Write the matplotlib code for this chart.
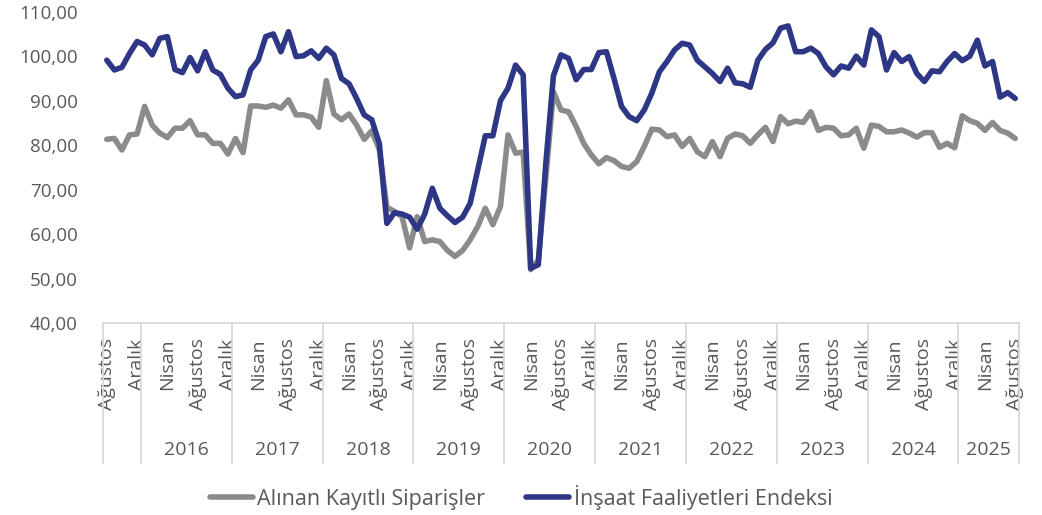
import numpy as np
import matplotlib
matplotlib.use("Agg")
import matplotlib.pyplot as plt
import matplotlib.transforms as mtransforms

plt.rcParams['font.family'] = ['Open Sans', 'DejaVu Sans']

# Aylik veri: Agustos 2015 - Agustos 2025
siparisler = [81.3, 81.5, 78.9, 82.3, 82.5, 88.7, 84.5, 82.7, 81.7, 83.8,
              83.8, 85.5, 82.3, 82.3, 80.4, 80.4, 78.0, 81.5, 78.3, 88.8,
              88.8, 88.5, 89.0, 88.3, 90.2, 86.8, 86.8, 86.3, 84.0, 94.5,
              87.0, 85.7, 87.0, 84.5, 81.3, 83.2, 79.0, 66.0, 65.1, 63.9,
              56.9, 63.9, 58.3, 58.7, 58.3, 56.3, 55.0, 56.3, 58.7, 61.7,
              65.8, 62.1, 66.2, 82.3, 78.2, 78.4, 52.0, 54.2, 72.7, 92.0,
              87.9, 87.5, 84.2, 80.4, 77.8, 75.8, 77.2, 76.5, 75.2, 74.8,
              76.3, 79.7, 83.6, 83.4, 81.9, 82.3, 79.7, 81.5, 78.5, 77.4,
              80.8, 77.4, 81.5, 82.5, 82.1, 80.4, 82.3, 84.0, 80.8, 86.4,
              84.8, 85.4, 85.1, 87.5, 83.3, 84.0, 83.8, 82.1, 82.3, 83.8,
              79.3, 84.5, 84.2, 83.0, 83.0, 83.4, 82.7, 81.8, 82.8, 82.8,
              79.5, 80.4, 79.4, 86.6, 85.5, 84.9, 83.3, 85.1, 83.3, 82.7,
              81.5]

insaat = [99.1, 96.9, 97.5, 100.6, 103.3, 102.5, 100.3, 104.0, 104.4, 97.0,
          96.3, 99.7, 96.7, 101.0, 96.9, 95.9, 92.8, 90.9, 91.3, 96.9,
          99.1, 104.4, 105.0, 101.0, 105.5, 99.9, 100.1, 101.2, 99.5, 101.8,
          100.3, 95.0, 93.8, 90.5, 86.8, 85.7, 80.4, 62.4, 64.8, 64.5,
          63.8, 61.1, 64.5, 70.3, 65.8, 64.1, 62.6, 63.8, 66.9, 74.4,
          82.1, 82.1, 90.0, 92.8, 98.0, 95.8, 52.3, 53.1, 76.0, 95.6,
          100.3, 99.5, 94.7, 97.0, 97.0, 100.8, 101.0, 95.0, 88.7, 86.4,
          85.5, 87.9, 91.7, 96.5, 98.8, 101.4, 102.9, 102.5, 99.1, 97.6,
          96.1, 94.3, 97.3, 94.0, 93.8, 93.0, 99.1, 101.5, 103.0, 106.3,
          106.8, 101.0, 101.0, 101.8, 100.6, 97.6, 95.8, 97.8, 97.3, 100.0,
          98.0, 105.9, 104.4, 96.9, 100.8, 98.8, 99.9, 96.1, 94.3, 96.7,
          96.5, 98.8, 100.6, 99.0, 100.0, 103.6, 97.8, 98.8, 90.8, 91.8,
          90.5]

ay_etiketleri = ["Ağustos", "Aralık", "Nisan"] * 10 + ["Ağustos"]
yillar = ["2016", "2017", "2018", "2019", "2020", "2021", "2022", "2023", "2024", "2025"]
y_etiketleri = ["40,00", "50,00", "60,00", "70,00", "80,00", "90,00", "100,00", "110,00"]

gri_yazi = "#595959"
cizgi_rengi = "#d9d9d9"

x = np.arange(len(insaat))

fig = plt.figure(figsize=(10.42, 5.15), dpi=100)
ax = fig.add_axes([103 / 1042, 1 - 323 / 515, 916 / 1042, 311.3 / 515])

ax.plot(x, siparisler, color="#8b8b8b", lw=4.0, solid_joinstyle="round",
        solid_capstyle="round", label="Alınan Kayıtlı Siparişler")
ax.plot(x, insaat, color="#2e3686", lw=4.0, solid_joinstyle="round",
        solid_capstyle="round", label="İnşaat Faaliyetleri Endeksi")

ax.set_xlim(-0.5, len(x) - 0.5)
ax.set_ylim(40, 110)
ax.set_yticks(np.arange(40, 111, 10))
ax.set_yticklabels(y_etiketleri)
ax.tick_params(axis="y", length=0, pad=18, labelsize=13.5, labelcolor=gri_yazi)

ax.set_xticks(x[::4])
ax.set_xticklabels(ay_etiketleri, rotation=90, va="top", ha="center")
ax.tick_params(axis="x", length=0, pad=11, labelsize=14, labelcolor=gri_yazi)

for s in ["top", "right", "left"]:
    ax.spines[s].set_visible(False)
ax.spines["bottom"].set_color(cizgi_rengi)
ax.spines["bottom"].set_linewidth(1.3)

# yil ayiraclari ve yil etiketleri
trans = mtransforms.blended_transform_factory(ax.transData, ax.transAxes)
sinirlar = [-0.5, 4.5] + [4.5 + 12 * k for k in range(1, 10)] + [len(x) - 0.5]
for b in sinirlar:
    ax.plot([b, b], [0, -0.45], color=cizgi_rengi, lw=1.3, transform=trans, clip_on=False)
for k, yil in enumerate(yillar):
    sol = sinirlar[k + 1]
    sag = sinirlar[k + 2]
    ax.text((sol + sag) / 2, -0.408, yil, transform=trans, ha="center", va="center",
            fontsize=14, color=gri_yazi)

leg = fig.legend(loc="center", bbox_to_anchor=(0.5, 1 - 497 / 515), ncol=2, frameon=False,
                 fontsize=15.5, handlelength=2.0, handletextpad=0.2, columnspacing=1.9)
for t in leg.get_texts():
    t.set_color(gri_yazi)

fig.savefig("out.png", dpi=100)
